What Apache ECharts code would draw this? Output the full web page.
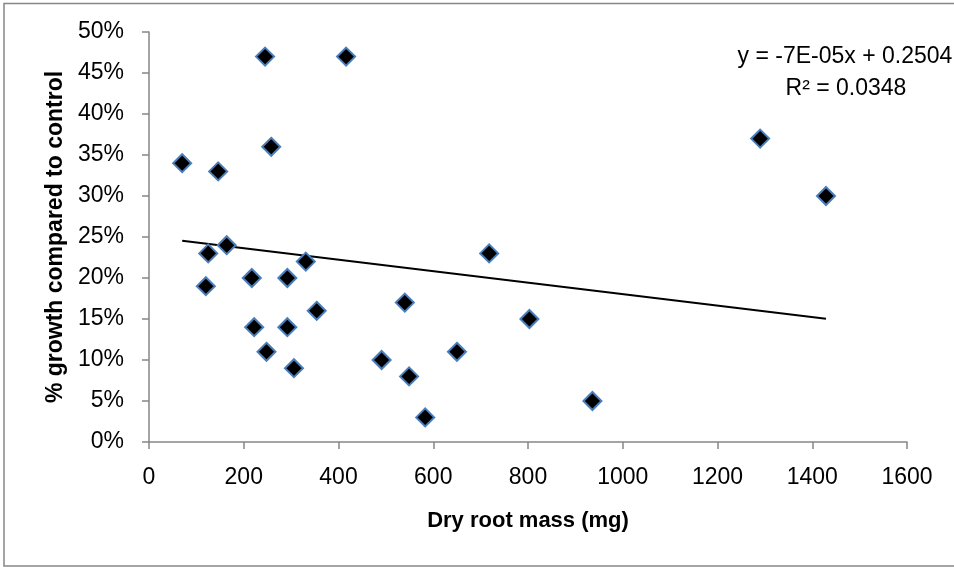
<!DOCTYPE html>
<html><head><meta charset="utf-8">
<script src="https://cdn.jsdelivr.net/npm/echarts@6/dist/echarts.min.js"></script>
<style>html,body{margin:0;padding:0;background:#fff}#c{width:954px;height:567px}</style>
</head><body><div id="c"></div>
<script>
// Dry root mass (mg)
const xValues = [70, 146, 245, 416, 258, 164, 125, 120, 217, 292, 331, 354, 222, 292, 248, 306, 491, 540, 549, 583, 650, 718, 803, 936, 1290, 1429];
// % growth compared to control
const yValues = [34, 33, 47, 47, 36, 24, 23, 19, 20, 20, 22, 16, 14, 14, 11, 9, 10, 17, 8, 3, 11, 23, 15, 5, 37, 30];
const xTicks = [0, 200, 400, 600, 800, 1000, 1200, 1400, 1600];
const yTicks = [0, 5, 10, 15, 20, 25, 30, 35, 40, 45, 50];
const trendSlope = -7e-5;
const trendIntercept = 0.2504;
const trendXRange = [70, 1429];
const equationLine1 = 'y = -7E-05x + 0.2504';
const equationLine2 = 'R\u00B2 = 0.0348';
const xTitle = 'Dry root mass (mg)';
const yTitle = '% growth compared to control';

const points = xValues.map((x, i) => [x, yValues[i]]);
const trend = trendXRange.map(x => [x, (trendSlope * x + trendIntercept) * 100]);
const FONT = 'Liberation Sans';
const axisGray = '#868686';

const chart = echarts.init(document.getElementById('c'), null, {renderer: 'canvas'});
chart.setOption({
  animation: false,
  backgroundColor: '#fff',
  grid: {left: 149, right: 47, top: 32, bottom: 125},
  xAxis: {
    type: 'value', min: xTicks[0], max: xTicks[xTicks.length - 1], interval: xTicks[1] - xTicks[0],
    axisLine: {show: true, lineStyle: {color: axisGray, width: 1.5}},
    axisTick: {show: true, length: 7, lineStyle: {color: axisGray, width: 1.5}},
    splitLine: {show: false},
    axisLabel: {color: '#000', fontFamily: FONT, fontSize: 23, margin: 24, formatter: v => String(v)},
    name: xTitle, nameLocation: 'middle', nameGap: 68,
    nameTextStyle: {color: '#000', fontFamily: FONT, fontSize: 22, fontWeight: 'bold'}
  },
  yAxis: {
    type: 'value', min: yTicks[0], max: yTicks[yTicks.length - 1], interval: yTicks[1] - yTicks[0],
    axisLine: {show: true, lineStyle: {color: axisGray, width: 1.5}},
    axisTick: {show: true, length: 7, lineStyle: {color: axisGray, width: 1.5}},
    splitLine: {show: false},
    axisLabel: {color: '#000', fontFamily: FONT, fontSize: 23, margin: 25, formatter: v => v + '%'},
    name: yTitle, nameLocation: 'middle', nameGap: 78,
    nameTextStyle: {color: '#000', fontFamily: FONT, fontSize: 23, fontWeight: 'bold'}
  },
  series: [
    {
      type: 'line', data: trend, showSymbol: false, symbol: 'none', z: 1,
      lineStyle: {color: '#000', width: 2}, silent: true
    },
    {
      type: 'scatter', data: points, symbol: 'diamond', symbolSize: 18, z: 2,
      itemStyle: {color: '#000', borderColor: '#4a7ebb', borderWidth: 2, opacity: 1}
    }
  ],
  graphic: [
    {type: 'rect', shape: {x: 4, y: 3.5, width: 1000, height: 562.5}, style: {fill: 'none', stroke: axisGray, lineWidth: 1.5}, silent: true, z: 0},
    {type: 'text', x: 845, y: 57, style: {text: equationLine1, font: '23px "Liberation Sans"', fill: '#000', textAlign: 'center', textVerticalAlign: 'middle'}},
    {type: 'text', x: 846, y: 89, style: {text: equationLine2, font: '23px "Liberation Sans"', fill: '#000', textAlign: 'center', textVerticalAlign: 'middle'}}
  ]
});
</script>
</body></html>
